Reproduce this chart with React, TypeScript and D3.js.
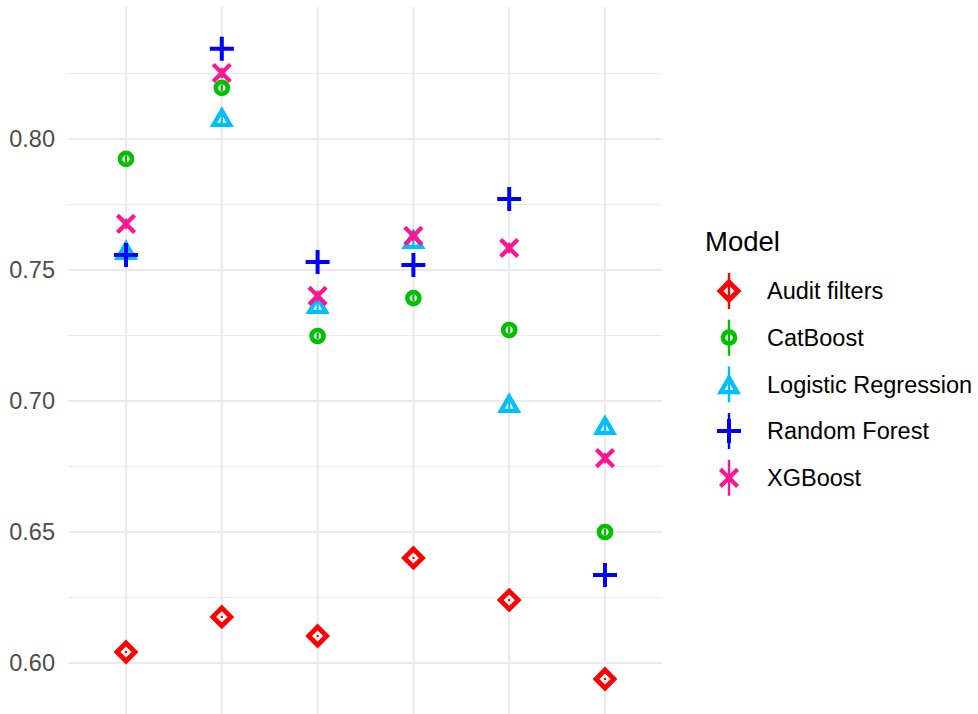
import React from "react";
import * as d3 from "d3";

const categories = ["1", "2", "3", "4", "5", "6"];
const seriesNames = ["Audit filters", "CatBoost", "Logistic Regression", "Random Forest", "XGBoost"];
const auditFilters = [0.6042, 0.6176, 0.6103, 0.6401, 0.624, 0.5939];
const catBoost = [0.7924, 0.8195, 0.7248, 0.7393, 0.7271, 0.65];
const logisticRegression = [0.7576, 0.8084, 0.737, 0.7618, 0.6992, 0.6908];
const randomForest = [0.7557, 0.8344, 0.7531, 0.7519, 0.7771, 0.6336];
const xgBoost = [0.7676, 0.8252, 0.7401, 0.763, 0.7584, 0.6782];
const errHalf = [0.0004, 0.0013, 0.0028, 0.0028, 0.002];
const colors = ["#FF0000", "#00C000", "#00BFFF", "#0000FF", "#FF1493"];
const shapes = ["diamond", "circle", "triangle", "plus", "cross"];
const yTicks = [0.6, 0.65, 0.7, 0.75, 0.8];
const yMinor = [0.575, 0.625, 0.675, 0.725, 0.775, 0.825];

const seriesValues = [auditFilters, catBoost, logisticRegression, randomForest, xgBoost];

const W = 978, H = 714;
const panel = { left: 68.5, right: 662.5, top: 7, bottom: 714 };
const font = "'Liberation Sans', Arial, sans-serif";

function shapePath(shape: string): string {
  switch (shape) {
    case "diamond": { const r = 9; return `M0,${-r}L${r},0L0,${r}L${-r},0Z`; }
    case "circle": { const r = 6; return `M${r},0A${r},${r} 0 1,1 ${-r},0A${r},${r} 0 1,1 ${r},0Z`; }
    case "triangle": return `M0,-6.5L8.3,7.8L-8.3,7.8Z`;
    case "plus": { const a = 12; return `M${-a},0L${a},0M0,${-a}L0,${a}`; }
    case "cross": { const a = 8.6; return `M${-a},${-a}L${a},${a}M${-a},${a}L${a},${-a}`; }
  }
  return "";
}
const strokeW: Record<string, number> = { diamond: 4.8, circle: 4.7, triangle: 4.3, plus: 4, cross: 4.2 };

export default function App() {
  const x = d3.scalePoint<string>().domain(categories).range([126, 605]);
  const y = d3.scaleLinear().domain([0.6, 0.8]).range([663, 139]);

  const legendX = 729;
  const legendY0 = 291;
  const legendStep = 46.7;

  return (
    <svg width={W} height={H} style={{ position: "absolute", left: 0, top: 0, background: "#fff" }}>
      <rect x={0} y={0} width={W} height={H} fill="#fff" />
      {yMinor.map((t) => (
        <line key={"mn" + t} x1={panel.left} x2={panel.right} y1={y(t)} y2={y(t)} stroke="#EBEBEB" strokeWidth={1.1} />
      ))}
      {yTicks.map((t) => (
        <line key={"mj" + t} x1={panel.left} x2={panel.right} y1={y(t)} y2={y(t)} stroke="#EBEBEB" strokeWidth={2.2} />
      ))}
      {categories.map((c) => (
        <line key={"v" + c} x1={x(c)} x2={x(c)} y1={panel.top} y2={panel.bottom} stroke="#EBEBEB" strokeWidth={2.2} />
      ))}
      {yTicks.map((t) => (
        <text key={"t" + t} x={55} y={y(t)} dy="0.35em" textAnchor="end" fontFamily={font} fontSize={23.5} fill="#4D4D4D">
          {d3.format(".2f")(t)}
        </text>
      ))}
      {seriesValues.map((vals, si) => (
        <g key={"s" + si}>
          {vals.map((v, i) => {
            const cx = x(categories[i])!;
            return (
              <g key={i}>
                <line x1={cx} x2={cx} y1={y(v - errHalf[si])} y2={y(v + errHalf[si])} stroke={colors[si]} strokeWidth={2.2} />
                <path d={shapePath(shapes[si])} transform={`translate(${cx},${y(v)})`} fill="none" stroke={colors[si]} strokeWidth={strokeW[shapes[si]]} strokeLinejoin="miter" />
              </g>
            );
          })}
        </g>
      ))}
      <text x={705} y={241} dy="0.35em" fontFamily={font} fontSize={27.5} fill="#000">Model</text>
      {seriesNames.map((name, si) => {
        const cy = legendY0 + si * legendStep;
        return (
          <g key={"l" + si}>
            <line x1={legendX} x2={legendX} y1={cy - 18} y2={cy + 18} stroke={colors[si]} strokeWidth={2.4} />
            <path d={shapePath(shapes[si])} transform={`translate(${legendX},${cy})`} fill="none" stroke={colors[si]} strokeWidth={strokeW[shapes[si]]} />
            <text x={767} y={cy} dy="0.35em" fontFamily={font} fontSize={23.5} fill="#000">{name}</text>
          </g>
        );
      })}
    </svg>
  );
}
